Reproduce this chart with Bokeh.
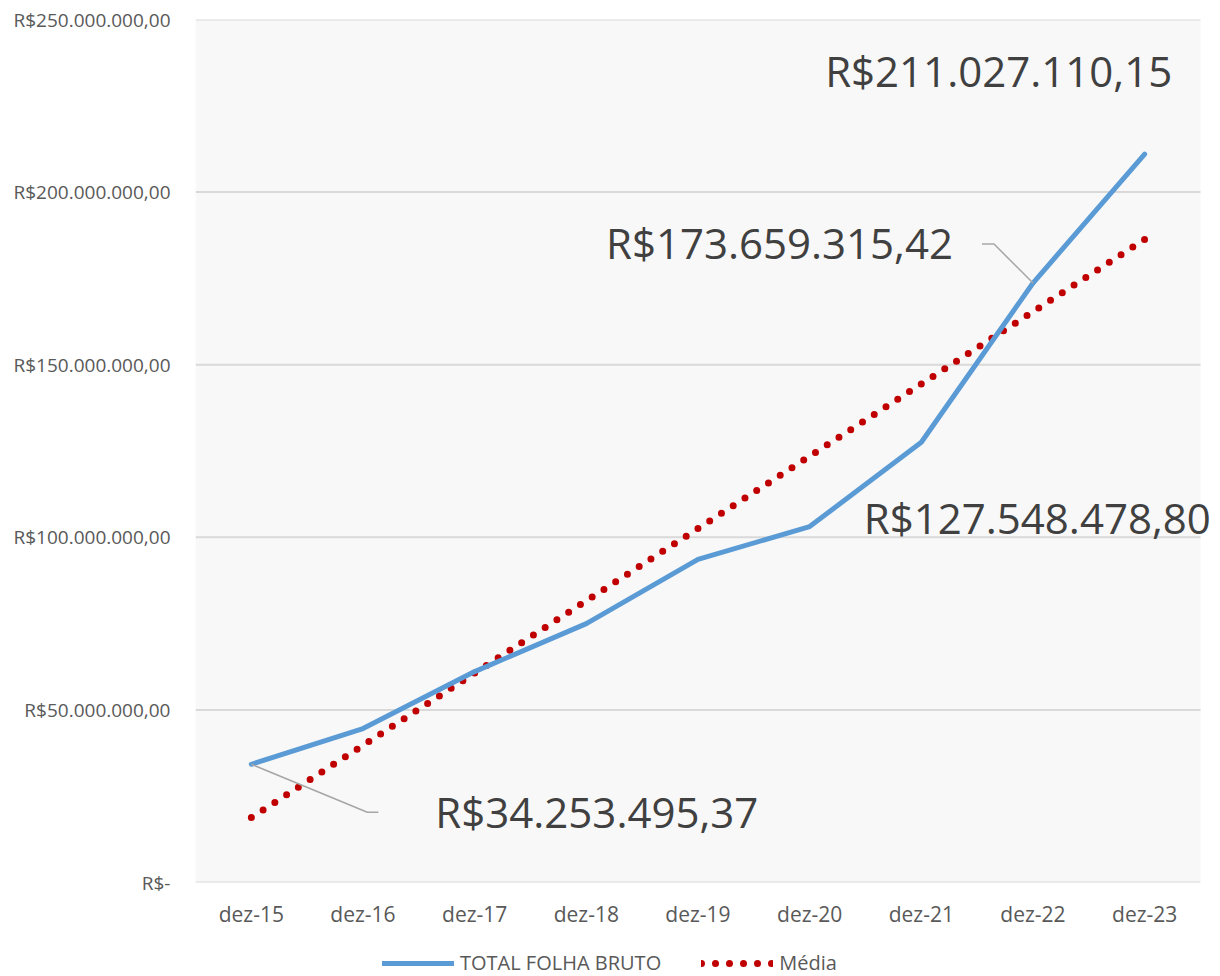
from bokeh.plotting import figure
from bokeh.models import Range1d, FixedTicker, Label, Legend, LegendItem, BoxAnnotation
from bokeh.layouts import column
from bokeh.embed import file_html
from bokeh.resources import INLINE

# ---------------- data ----------------
categories = ["dez-15", "dez-16", "dez-17", "dez-18", "dez-19", "dez-20", "dez-21", "dez-22", "dez-23"]
total_folha = [34253495.37, 44.6e6, 61.1e6, 75.0e6, 93.6e6, 103.1e6, 127548478.80, 173659315.42, 211027110.15]
media_x = [0, 8]                 # linear trend ("Média") endpoints
media = [18.8e6, 186.3e6]
y_ticks = [0, 50e6, 100e6, 150e6, 200e6, 250e6]
y_tick_labels = ["R$-", "R$50.000.000,00", "R$100.000.000,00", "R$150.000.000,00",
                 "R$200.000.000,00", "R$250.000.000,00"]
label_idx = [0, 6, 7, 8]
label_txt = ["R$34.253.495,37", "R$127.548.478,80", "R$173.659.315,42", "R$211.027.110,15"]
series_names = ["TOTAL FOLHA BRUTO", "Média"]

FONT = "Open Sans"
BLUE, RED = "#5B9BD5", "#C00000"
W, H = 1220, 930
FL, FT, FB = 195, 19, 882            # frame edges in figure px
AREA_R = 1200                        # right edge of the grey plot area
n = len(categories)
sx = (AREA_R - FL) / n               # px per category
x0 = -0.5
x1 = x0 + (W - FL) / sx
y0, y1 = 0, 250e6
sy = (FB - FT) / (y1 - y0)

p = figure(width=W, height=H, output_backend="svg", toolbar_location=None,
           x_range=Range1d(x0, x1), y_range=Range1d(y0, y1),
           min_border_left=FL, min_border_right=0, min_border_top=FT,
           min_border_bottom=H - FB)
p.background_fill_color = "white"
p.border_fill_color = "white"
p.outline_line_color = None
p.add_layout(BoxAnnotation(left=-0.5, right=n - 0.5, fill_color="#f8f8f8", fill_alpha=1,
                           line_color=None, level="underlay"))

# grid (drawn only over the grey plot area)
p.xgrid.grid_line_color = None
p.ygrid.grid_line_color = None
p.segment(x0=[-0.5] * len(y_ticks), x1=[n - 0.5] * len(y_ticks), y0=y_ticks, y1=y_ticks,
          line_color="#d9d9d9", line_width=2)

# y axis
p.yaxis.ticker = FixedTicker(ticks=y_ticks)
p.yaxis.major_label_overrides = {t: l for t, l in zip(y_ticks, y_tick_labels)}
p.yaxis.axis_line_color = None
p.yaxis.major_tick_line_color = None
p.yaxis.minor_tick_line_color = None
p.yaxis.major_tick_out = 0
p.yaxis.major_tick_in = 0
p.yaxis.major_label_standoff = 25
p.yaxis.major_label_text_font = FONT
p.yaxis.major_label_text_font_size = "19px"
p.yaxis.major_label_text_color = "#595959"

# x axis
p.xaxis.ticker = FixedTicker(ticks=list(range(n)))
p.xaxis.major_label_overrides = {i: c for i, c in enumerate(categories)}
p.xaxis.axis_line_color = None
p.xaxis.major_tick_line_color = None
p.xaxis.minor_tick_line_color = None
p.xaxis.major_tick_out = 0
p.xaxis.major_tick_in = 0
p.xaxis.major_label_standoff = 17
p.xaxis.major_label_text_font = FONT
p.xaxis.major_label_text_font_size = "21px"
p.xaxis.major_label_text_color = "#595959"

xs = list(range(n))
p.line(media_x, media, line_color=RED, line_width=7, line_dash="0 14", line_cap="round")
p.line(xs, total_folha, line_color=BLUE, line_width=5, line_join="round", line_cap="round")

# data labels: (x_offset px, y_offset px, align)
offs = {0: (184, -47, "left"), 6: (116, -75, "center"),
        7: (-80, 41, "right"), 8: (-146, 84, "center")}
for i, t in zip(label_idx, label_txt):
    dx, dy, al = offs[i]
    p.add_layout(Label(x=i, y=total_folha[i], text=t, x_offset=dx, y_offset=dy,
                       text_align=al, text_baseline="alphabetic",
                       text_font=FONT, text_font_size="42px", text_color="#404040"))

# leader lines (pixel offsets from the data point)
def leader(i, pts):
    lx = [i] + [i + a / sx for a, b in pts]
    ly = [total_folha[i]] + [total_folha[i] + b / sy for a, b in pts]
    p.line(lx, ly, line_color="#a6a6a6", line_width=1.5)

leader(7, [(-39, 39), (-51, 39)])
leader(0, [(116, -48), (127, -48)])

# ---------------- legend strip ----------------
LH = 976 - H
q = figure(width=W, height=LH, output_backend="svg", toolbar_location=None,
           x_axis_location=None, y_axis_location=None,
           x_range=Range1d(0, 1), y_range=Range1d(0, 1),
           min_border=0, min_border_left=0, min_border_right=0,
           min_border_top=0, min_border_bottom=0)
q.outline_line_color = None
q.background_fill_color = "white"
q.border_fill_color = "white"
q.xgrid.grid_line_color = None
q.ygrid.grid_line_color = None
# legend-only renderers (their points lie outside the visible range)
lr_total = q.line([5, 6], [5, 6], line_color=BLUE, line_width=5, line_cap="round")
lr_media = q.line([5, 6], [5, 6], line_color=RED, line_width=7, line_dash="0 14", line_cap="round")
legend = Legend(items=[LegendItem(label=series_names[0], renderers=[lr_total]),
                       LegendItem(label=series_names[1], renderers=[lr_media])],
                orientation="horizontal", location=(382 - FL, 0))
legend.background_fill_alpha = 0
legend.border_line_color = None
legend.padding = 0
legend.margin = 0
legend.spacing = 40
legend.glyph_width = 72
legend.glyph_height = 20
legend.label_standoff = 6
legend.label_text_font = FONT
legend.label_text_font_size = "20px"
legend.label_text_color = "#595959"
legend.label_height = 20
q.add_layout(legend, "center")

open("out.html", "w").write(file_html(column(p, q, spacing=0), INLINE))
